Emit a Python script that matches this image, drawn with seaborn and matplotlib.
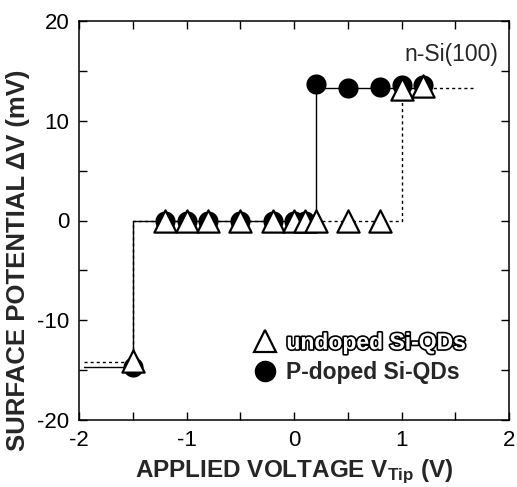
import matplotlib
matplotlib.use("Agg")
import matplotlib.pyplot as plt
import matplotlib.patheffects as pe
from matplotlib.lines import Line2D
from matplotlib.ticker import MultipleLocator, FuncFormatter
import seaborn as sns

# Measured surface potential versus tip voltage
undoped_v = [-1.5, -1.2, -1.0, -0.8, -0.5, -0.2, 0.0, 0.1, 0.2, 0.5, 0.8, 1.0, 1.2]
undoped_dv = [-14.1, 0.0, 0.0, 0.0, 0.0, 0.0, 0.0, 0.0, 0.0, 0.0, 0.0, 13.2, 13.5]

pdoped_v = [-1.5, -1.2, -1.0, -0.8, -0.5, -0.2, 0.0, 0.1, 0.2, 0.5, 0.8, 1.0, 1.2]
pdoped_dv = [-14.7, 0.0, 0.0, 0.0, 0.0, 0.0, 0.0, 0.0, 13.7, 13.3, 13.4, 13.6, 13.6]

# Step guides (edges + levels)
pdoped_step_v = [-1.95, -1.5, 0.2, 1.25]
pdoped_step_dv = [-14.7, 0.0, 13.3, 13.3]
undoped_step_v = [-1.95, -1.5, 1.0, 1.67]
undoped_step_dv = [-14.2, 0.0, 13.3, 13.3]

labels = ["undoped Si-QDs", "P-doped Si-QDs"]

sns.set_theme(style="ticks")
plt.rcParams["font.family"] = ["Liberation Sans", "DejaVu Sans"]
plt.rcParams["mathtext.fontset"] = "custom"
plt.rcParams["mathtext.bf"] = "Liberation Sans:bold"
plt.rcParams["mathtext.rm"] = "Liberation Sans"
plt.rcParams["mathtext.default"] = "bf"

fig = plt.figure(figsize=(5.17, 4.87), dpi=100)
ax = fig.add_axes([79 / 517, 1 - 420 / 487, 430 / 517, 399 / 487])

sns.lineplot(x=pdoped_step_v, y=pdoped_step_dv, ax=ax, color="black", lw=1.0,
             drawstyle="steps-post", sort=False, estimator=None, zorder=1)
sns.lineplot(x=undoped_step_v, y=undoped_step_dv, ax=ax, color="black", lw=1.0,
             drawstyle="steps-post", sort=False, estimator=None, zorder=1,
             linestyle=(0, (2.2, 2.2)))

sns.scatterplot(x=pdoped_v, y=pdoped_dv, ax=ax, marker="o", s=14.5 ** 2,
                color="black", edgecolor="black", linewidth=0, zorder=3)
sns.scatterplot(x=undoped_v, y=undoped_dv, ax=ax, marker="^", s=16 ** 2,
                facecolor="white", edgecolor="black", linewidth=1.6, zorder=4)

ax.set_xlim(-2, 2)
ax.set_ylim(-20, 20)
ax.xaxis.set_major_locator(MultipleLocator(0.5))
ax.xaxis.set_major_formatter(FuncFormatter(
    lambda v, p: f"{int(round(v))}" if abs(v - round(v)) < 1e-6 else ""))
ax.yaxis.set_major_locator(MultipleLocator(5))
ax.yaxis.set_major_formatter(FuncFormatter(
    lambda v, p: f"{int(round(v))}" if abs(v / 10 - round(v / 10)) < 1e-6 else ""))
ax.tick_params(direction="in", length=6, width=1.0, top=True, right=True,
               labelsize=16, pad=7, colors="black")
for s in ax.spines.values():
    s.set_linewidth(1.1)
    s.set_color("black")

ax.set_xlabel("APPLIED VOLTAGE V$_{Tip}$ (V)", fontsize=17.5, fontweight="bold",
              labelpad=5)
ax.set_ylabel("SURFACE POTENTIAL \u0394V (mV)", fontsize=18.5, fontweight="bold")
ax.yaxis.set_label_coords(-0.113, 0.40)

ax.text(0.974, 0.915, "n-Si(100)", transform=ax.transAxes, ha="right",
        va="center", fontsize=16.5)

handles = [
    Line2D([], [], marker="^", linestyle="none", markersize=16,
           markerfacecolor="white", markeredgecolor="black", markeredgewidth=1.6),
    Line2D([], [], marker="o", linestyle="none", markersize=14.5,
           markerfacecolor="black", markeredgecolor="black"),
]
leg = ax.legend(handles, labels, loc="lower left", bbox_to_anchor=(0.405, 0.09),
                frameon=False, fontsize=16.5, handlelength=1.0, handletextpad=0.45,
                labelspacing=0.3, borderpad=0, borderaxespad=0)
for t in leg.get_texts():
    t.set_fontweight("bold")
leg.get_texts()[0].set_color("white")
leg.get_texts()[0].set_path_effects([pe.Stroke(linewidth=2.4, foreground="black"),
                                     pe.Normal()])

fig.savefig("out.png", dpi=100)
